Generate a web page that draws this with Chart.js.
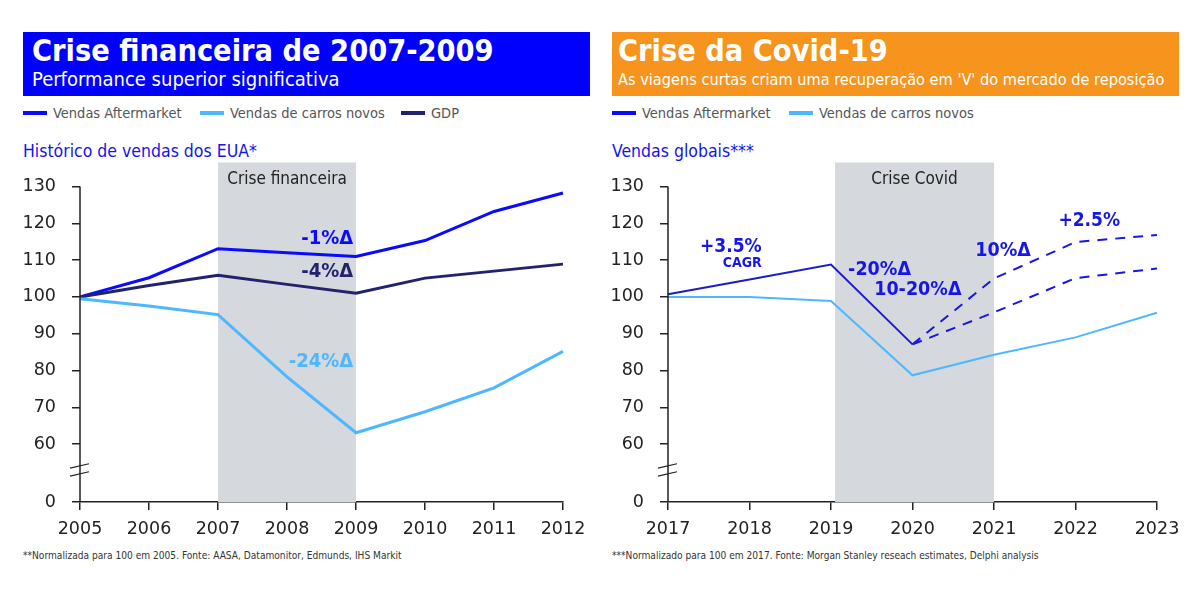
<!DOCTYPE html>
<html><head><meta charset="utf-8">
<script src="https://cdn.jsdelivr.net/npm/chart.js@4"></script>
<style>
html,body{margin:0;padding:0;background:#fff;}
body{width:1200px;height:600px;position:relative;overflow:hidden;font-family:"DejaVu Sans Condensed","DejaVu Sans",sans-serif;}
.bar{position:absolute;top:32px;height:64px;}
.t1{position:absolute;left:9px;top:1px;font-weight:bold;font-size:30.4px;line-height:36px;color:#fff;white-space:nowrap;}
.t2{position:absolute;left:9px;top:35px;font-size:20px;line-height:24px;color:#fff;white-space:nowrap;}
.leg{position:absolute;top:104px;font-size:14.5px;line-height:18px;color:#555;white-space:nowrap;}
.sw{position:absolute;height:4px;top:111px;width:24px;}
.sub{position:absolute;top:141px;font-size:17.5px;line-height:20px;color:#1414f0;white-space:nowrap;}
.foot{position:absolute;top:550px;font-size:10.1px;line-height:12px;color:#333;white-space:nowrap;}
canvas{position:absolute;top:136px;}
</style></head>
<body>
<div class="bar" style="left:23px;width:567px;background:#0000ff;">
  <div class="t1">Crise financeira de 2007-2009</div>
  <div class="t2">Performance superior significativa</div>
</div>
<div class="bar" style="left:612px;width:567px;background:#f7941d;">
  <div class="t1" style="left:6px;">Crise da Covid-19</div>
  <div class="t2" style="left:6px;font-size:16.2px;top:36px;">As viagens curtas criam uma recuperação em 'V' do mercado de reposição</div>
</div>

<div class="sw" style="left:23px;background:#0a0aff;"></div><div class="leg" style="left:53px;">Vendas Aftermarket</div>
<div class="sw" style="left:200px;background:#4db8ff;"></div><div class="leg" style="left:230px;">Vendas de carros novos</div>
<div class="sw" style="left:401px;background:#22226e;"></div><div class="leg" style="left:431px;">GDP</div>

<div class="sw" style="left:612px;background:#0a0aff;"></div><div class="leg" style="left:642px;">Vendas Aftermarket</div>
<div class="sw" style="left:789px;background:#4db8ff;"></div><div class="leg" style="left:819px;">Vendas de carros novos</div>

<div class="sub" style="left:23px;">Histórico de vendas dos EUA*</div>
<div class="sub" style="left:612px;">Vendas globais***</div>

<div class="foot" style="left:23px;">**Normalizada para 100 em 2005. Fonte: AASA, Datamonitor, Edmunds, IHS Markit</div>
<div class="foot" style="left:612px;">***Normalizado para 100 em 2017. Fonte: Morgan Stanley reseach estimates, Delphi analysis</div>

<canvas id="c1" width="600" height="404" style="left:0px;"></canvas>
<canvas id="c2" width="600" height="404" style="left:600px;"></canvas>

<script>
// ---------- DATA ----------
const yearsLeft = ['2005','2006','2007','2008','2009','2010','2011','2012'];
const leftAftermarket = [100, 105.2, 113.1, 112, 111, 115.3, 123.2, 128.2];
const leftNewCars     = [99.5, 97.5, 95.2, 78.3, 63.1, 68.8, 75.3, 85.2];
const leftGDP         = [100, 103.1, 105.9, 103.4, 101, 105.1, 107, 108.9];

const yearsRight = ['2017','2018','2019','2020','2021','2022','2023'];
const rightAftermarket      = [100.7, 104.7, 108.8, 87.1, null, null, null];
const rightAftermarketHigh  = [null, null, null, 87.1, 105, 114.9, 116.8];
const rightAftermarketLow   = [null, null, null, 87.1, 95.8, 105.1, 107.7];
const rightNewCars          = [100, 100, 98.9, 78.7, 84.3, 89, 95.7];

const yTickLabels = [0, 60, 70, 80, 90, 100, 110, 120, 130];

// ---------- STYLE / LAYOUT ----------
const FONT = '"DejaVu Sans Condensed","DejaVu Sans",sans-serif';
const TICKFONT = '"DejaVu Sans",sans-serif';
const BLUE = '#0a0aff', LIGHT = '#4db8ff', NAVY = '#22226e', AXIS = '#222';
const BLUE2 = '#1c1cc8', BLUE3 = '#1616e6';
const Y_TOP = 136.5;      // top of plot area (shaded box top)
const Y_FLOOR = 44.3;     // where "0" sits on the broken axis
const Y_BREAK = 53.0;     // break mark position

function xAt(scale, v){
  const i = Math.floor(v), step = scale.getPixelForValue(1) - scale.getPixelForValue(0);
  return scale.getPixelForValue(i) + (v - i) * step;
}

function makePlugin(shadeFrom, shadeTo, shadeLabel, notes){
  return {
    id: 'custom',
    beforeDatasetsDraw(chart){
      const {ctx, chartArea:a, scales:{x, y}} = chart;
      const x0 = xAt(x, shadeFrom), x1 = xAt(x, shadeTo);
      ctx.save();
      ctx.fillStyle = '#d5d8dc';
      ctx.fillRect(x0, a.top, x1 - x0, a.bottom - a.top);
      ctx.fillStyle = '#222';
      ctx.font = '17px ' + FONT;
      ctx.textAlign = 'center'; ctx.textBaseline = 'middle';
      ctx.fillText(shadeLabel, (x0 + x1) / 2, a.top + 17);
      ctx.restore();
    },
    afterDraw(chart){
      const {ctx, chartArea:a, scales:{x, y}} = chart;
      ctx.save();
      // y axis line
      ctx.strokeStyle = AXIS; ctx.lineWidth = 1.5;
      ctx.beginPath(); ctx.moveTo(a.left, y.getPixelForValue(130)); ctx.lineTo(a.left, a.bottom); ctx.stroke();
      // break marks
      const yb = y.getPixelForValue(Y_BREAK);
      ctx.lineWidth = 1.2;
      [-4, 4].forEach(d => {
        ctx.beginPath(); ctx.moveTo(a.left - 10, yb + d + 2.2); ctx.lineTo(a.left + 9, yb + d - 2.2); ctx.stroke();
      });
      // annotations
      notes.forEach(n => {
        ctx.fillStyle = n.color;
        ctx.font = 'bold ' + n.size + 'px ' + FONT;
        ctx.textAlign = n.align; ctx.textBaseline = 'middle';
        ctx.fillText(n.text, xAt(x, n.x), y.getPixelForValue(n.y));
      });
      ctx.restore();
    }
  };
}

function baseOptions(yWidth, padRight){
  return {
    responsive: false, animation: false, devicePixelRatio: 1,
    layout: {padding: {top: 2, right: padRight, bottom: 0, left: 0}},
    plugins: {legend: {display: false}, tooltip: {enabled: false}},
    elements: {point: {radius: 0}, line: {tension: 0}},
    scales: {
      x: {
        type: 'category', offset: false,
        grid: {display: true, drawOnChartArea: false, drawTicks: true, tickLength: 8, color: AXIS, lineWidth: 1.5},
        border: {display: true, color: AXIS, width: 1.5},
        ticks: {color: '#222', font: {size: 17.5, family: TICKFONT}, padding: 9, maxRotation: 0, autoSkip: false},
        afterFit(s){ s.height = 38; }
      },
      y: {
        type: 'linear', min: Y_FLOOR, max: Y_TOP,
        afterBuildTicks(s){ s.ticks = yTickLabels.map(v => ({value: v === 0 ? Y_FLOOR : v})); },
        grid: {display: true, drawOnChartArea: false, drawTicks: true, tickLength: 8, color: AXIS, lineWidth: 1.5},
        border: {display: false},
        ticks: {color: '#222', font: {size: 17.5, family: TICKFONT}, padding: 16,
                callback: v => (v < 59 ? '0' : String(v))},
        afterFit(s){ s.width = yWidth; }
      }
    }
  };
}

new Chart(document.getElementById('c1'), {
  type: 'line',
  data: {
    labels: yearsLeft,
    datasets: [
      {label: 'Vendas de carros novos', data: leftNewCars, borderColor: LIGHT, borderWidth: 3},
      {label: 'GDP', data: leftGDP, borderColor: NAVY, borderWidth: 3},
      {label: 'Vendas Aftermarket', data: leftAftermarket, borderColor: BLUE, borderWidth: 3}
    ]
  },
  options: baseOptions(80, 37),
  plugins: [makePlugin(2, 4, 'Crise financeira', [
    {text: '-1%Δ',  x: 3.96, y: 115.9, color: BLUE,  size: 20, align: 'right'},
    {text: '-4%Δ',  x: 3.96, y: 106.7, color: NAVY,  size: 20, align: 'right'},
    {text: '-24%Δ', x: 3.96, y: 82.3,  color: LIGHT, size: 20, align: 'right'}
  ])]
});

new Chart(document.getElementById('c2'), {
  type: 'line',
  data: {
    labels: yearsRight,
    datasets: [
      {label: 'Vendas de carros novos', data: rightNewCars, borderColor: LIGHT, borderWidth: 2},
      {label: 'Vendas Aftermarket', data: rightAftermarket, borderColor: BLUE2, borderWidth: 2},
      {label: 'Cenário alto', data: rightAftermarketHigh, borderColor: BLUE3, borderWidth: 2, borderDash: [10, 8]},
      {label: 'Cenário baixo', data: rightAftermarketLow, borderColor: BLUE3, borderWidth: 2, borderDash: [10, 8]}
    ]
  },
  options: baseOptions(68, 43),
  plugins: [makePlugin(2.05, 4, 'Crise Covid', [
    {text: '+3.5%',   x: 1.15, y: 113.5, color: BLUE3, size: 19, align: 'right'},
    {text: 'CAGR',    x: 1.15, y: 109.1, color: BLUE3, size: 14, align: 'right'},
    {text: '-20%Δ',   x: 2.21, y: 107.2, color: BLUE3, size: 19.5, align: 'left'},
    {text: '10-20%Δ', x: 2.53, y: 101.8, color: BLUE3, size: 19.5, align: 'left'},
    {text: '10%Δ',    x: 3.77, y: 112.6, color: BLUE3, size: 19.5, align: 'left'},
    {text: '+2.5%',   x: 4.79, y: 120.5, color: BLUE3, size: 19, align: 'left'}
  ])]
});
</script>
</body></html>
